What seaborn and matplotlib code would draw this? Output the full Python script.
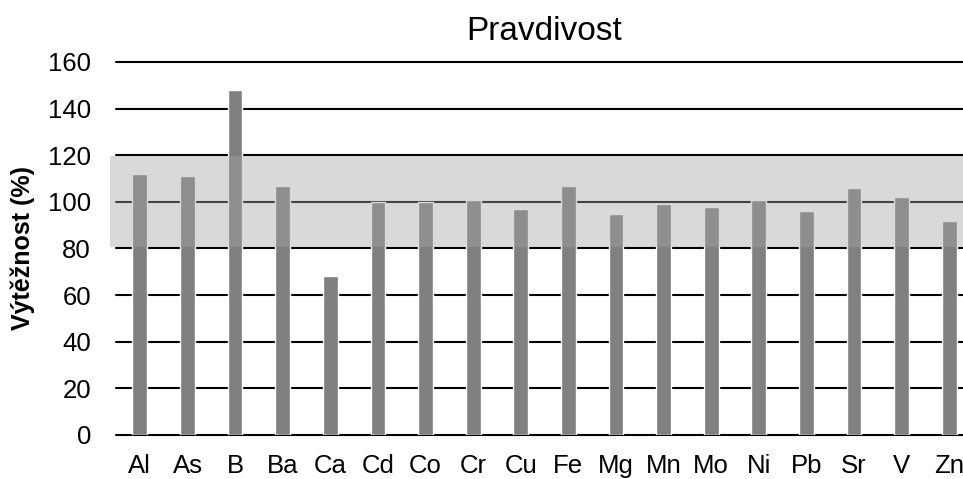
import matplotlib
matplotlib.use("Agg")
import matplotlib.pyplot as plt
import seaborn as sns
import pandas as pd

# values
elements = ["Al", "As", "B", "Ba", "Ca", "Cd", "Co", "Cr", "Cu",
            "Fe", "Mg", "Mn", "Mo", "Ni", "Pb", "Sr", "V", "Zn"]
recovery = [112, 111, 148, 107, 68, 100, 100, 101, 97,
            107, 95, 99, 98, 101, 96, 106, 102, 92]
band_low, band_high = 80.5, 119.7
yticks = [0, 20, 40, 60, 80, 100, 120, 140, 160]

sns.set_theme(style="white")
plt.rcParams["font.family"] = ["Liberation Sans", "DejaVu Sans"]

df = pd.DataFrame({"element": elements, "recovery": recovery})

fig = plt.figure(figsize=(9.63, 4.79), dpi=100)
ax = fig.add_axes([0.1205, 0.0919, 0.890, 0.7787])

sns.barplot(data=df, x="element", y="recovery", color="#808080",
            saturation=1, width=0.31, ax=ax, zorder=3)

# tolerance band sits on top of the bars, semi-transparent
ax.axhspan(band_low, band_high, xmin=-0.007, xmax=1, color="#a4a4a4",
           alpha=0.417, lw=0, zorder=5, clip_on=False)

ax.set_ylim(0, 160)
ax.set_yticks(yticks)
ax.yaxis.grid(True, color="black", lw=1.5)
ax.set_axisbelow(True)
for gl in ax.get_ygridlines():
    gl.set_clip_on(False)
ax.xaxis.grid(False)
sns.despine(ax=ax, left=True, bottom=True)

ax.tick_params(axis="y", length=0, pad=18, labelsize=18.5, labelcolor="black")
ax.tick_params(axis="x", length=0, pad=14, labelsize=18.5, labelcolor="black")
ax.set_xlabel("")
ax.set_ylabel("Výtěžnost (%)", fontsize=18, fontweight="bold",
              color="black", labelpad=9)
ax.set_title("Pravdivost", fontsize=24, color="black", pad=16)

fig.savefig("out.png", dpi=100)
